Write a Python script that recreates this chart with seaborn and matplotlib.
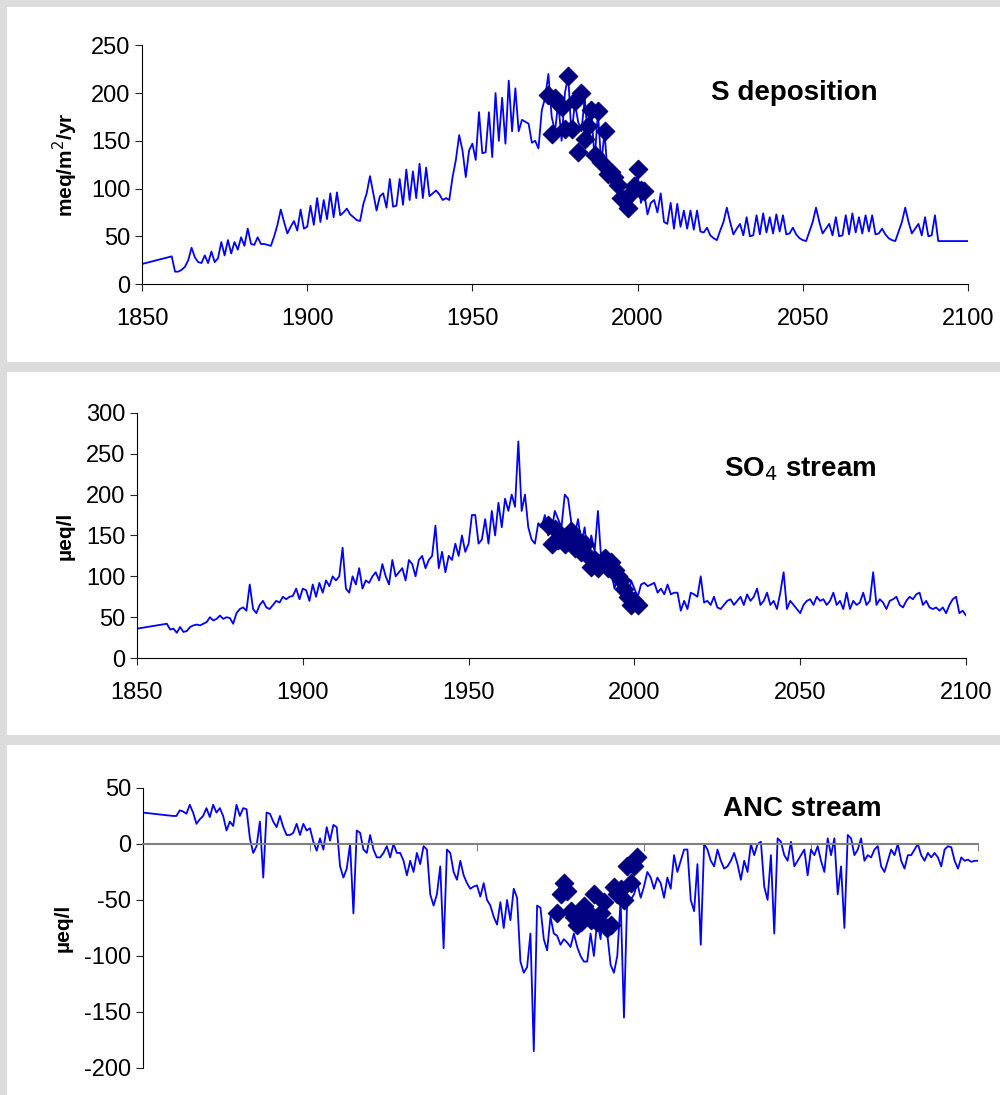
import numpy as np
import pandas as pd
import seaborn as sns
import matplotlib.pyplot as plt
from matplotlib.patches import Rectangle

# Annual values 1860-2100 (one row per decade); 1850 start point separately
s_start = [(1850, 21), (1859, 29)]
s_dep = [
    13, 13, 15, 18, 25, 38, 28, 23, 22, 30,      # 1860
    22, 34, 23, 27, 44, 30, 46, 32, 44, 36,      # 1870
    49, 40, 58, 42, 41, 49, 42, 42, 41, 40,      # 1880
    50, 62, 78, 65, 53, 60, 66, 56, 78, 58,      # 1890
    60, 82, 62, 90, 65, 88, 68, 95, 70, 96,      # 1900
    72, 75, 79, 73, 70, 67, 66, 84, 95, 113,     # 1910
    95, 77, 92, 95, 80, 110, 81, 82, 110, 83,    # 1920
    120, 88, 118, 90, 126, 90, 122, 92, 95, 98,  # 1930
    94, 88, 90, 88, 112, 130, 156, 140, 112, 140,  # 1940
    147, 130, 180, 137, 138, 180, 133, 200, 150, 195,  # 1950
    147, 213, 160, 205, 160, 172, 170, 168, 148, 150,  # 1960
    142, 182, 195, 220, 175, 160, 190, 150, 200, 218,  # 1970
    155, 190, 170, 160, 195, 150, 180, 130, 180, 125,  # 1980
    160, 110, 115, 110, 100, 90, 88, 78, 95, 105,  # 1990
    115, 85, 95, 73, 85, 88, 75, 95, 65, 63,     # 2000
    85, 58, 84, 60, 77, 58, 77, 57, 77, 55,      # 2010
    54, 59, 51, 48, 46, 56, 65, 80, 65, 52,      # 2020
    58, 63, 51, 70, 50, 51, 72, 52, 74, 54,      # 2030
    70, 53, 73, 55, 72, 52, 53, 59, 52, 48,      # 2040
    46, 45, 55, 65, 80, 65, 53, 58, 63, 51,      # 2050
    70, 50, 51, 72, 52, 74, 54, 70, 53, 72,      # 2060
    55, 72, 52, 53, 58, 52, 48, 46, 45, 55,      # 2070
    65, 80, 65, 53, 58, 63, 51, 70, 50, 51,      # 2080
    72, 45, 45, 45, 45, 45, 45, 45, 45, 45,      # 2090
    45,                                          # 2100
]
s_obs_years = list(range(1973, 2003))
s_obs = [198, 157, 195, 190, 185, 162, 218, 162, 192, 138, 200, 152, 165, 182, 135,
         181, 128, 160, 115, 117, 112, 104, 90, 88, 80, 95, 103, 120, 98, 97]

so4_start = [(1850, 36), (1859, 42)]
so4 = [
    35, 36, 31, 38, 32, 33, 38, 40, 41, 40,      # 1860
    42, 44, 50, 46, 48, 52, 48, 50, 49, 42,      # 1870
    55, 60, 62, 58, 90, 60, 55, 65, 70, 62,      # 1880
    60, 65, 70, 68, 75, 72, 75, 76, 85, 72,      # 1890
    85, 83, 70, 90, 75, 92, 80, 95, 88, 100,     # 1900
    95, 100, 135, 85, 80, 100, 90, 110, 85, 95,  # 1910
    92, 100, 105, 95, 115, 100, 90, 120, 100, 105,  # 1920
    110, 95, 120, 115, 100, 120, 125, 110, 120, 125,  # 1930
    162, 110, 130, 105, 125, 120, 140, 125, 150, 130,  # 1940
    140, 175, 175, 140, 145, 170, 140, 180, 150, 190,  # 1950
    160, 195, 180, 200, 185, 265, 180, 200, 160, 145,  # 1960
    140, 165, 160, 175, 150, 155, 180, 170, 160, 200,  # 1970
    195, 165, 150, 170, 140, 160, 120, 150, 130, 180,  # 1980
    120, 110, 100, 105, 85, 100, 75, 100, 70, 95,  # 1990
    85, 75, 90, 92, 88, 90, 92, 80, 85, 78,      # 2000
    90, 78, 80, 80, 58, 70, 60, 80, 78, 75,      # 2010
    100, 68, 70, 65, 75, 62, 60, 65, 70, 72,     # 2020
    65, 70, 75, 65, 78, 70, 75, 85, 65, 70,      # 2030
    80, 65, 70, 60, 80, 105, 60, 70, 65, 60,     # 2040
    55, 65, 70, 72, 65, 75, 70, 72, 65, 70,      # 2050
    80, 65, 70, 60, 80, 60, 70, 65, 68, 80,      # 2060
    65, 70, 105, 65, 72, 68, 60, 70, 72, 75,     # 2070
    65, 62, 70, 75, 72, 78, 80, 65, 70, 62,      # 2080
    60, 62, 58, 62, 55, 65, 72, 75, 55, 58,      # 2090
    52,                                          # 2100
]
so4_obs_years = list(range(1974, 2002))
so4_obs = [163, 140, 158, 145, 148, 140, 150, 155, 135, 145, 130, 140, 125, 112,
           120, 110, 115, 122, 110, 118, 108, 100, 95, 85, 75, 65, 70, 65]

anc_start = [(1850, 28), (1859, 25)]
anc = [
    25, 30, 29, 27, 35, 28, 18, 22, 25, 32,      # 1860
    24, 35, 28, 32, 25, 12, 20, 16, 35, 25,      # 1870
    32, 31, 5, -8, -2, 20, -30, 28, 27, 20,      # 1880
    15, 25, 15, 8, 8, 10, 18, 8, 18, 12,         # 1890
    14, 2, -6, 5, -5, 15, 3, 17, 15, -20,        # 1900
    -30, -22, 0, -62, 12, 10, -5, -8, 8, -5,     # 1910
    -12, -12, -8, -2, -12, 0, -8, -8, -15, -28,  # 1920
    -15, -25, -8, -18, -2, -5, -45, -55, -45, -20,  # 1930
    -93, -5, -8, -25, -32, -15, -28, -35, -40, -38,  # 1940
    -37, -47, -35, -50, -55, -65, -72, -52, -75, -50,  # 1950
    -68, -40, -48, -105, -115, -110, -80, -185, -55, -57,  # 1960
    -85, -95, -65, -80, -82, -90, -85, -88, -92, -80,  # 1970
    -92, -100, -105, -105, -80, -100, -68, -85, -50, -80,  # 1980
    -108, -115, -100, -50, -155, -45, -50, -45, -35, -48,  # 1990
    -38, -25, -30, -40, -30, -35, -48, -30, -40, -10,  # 2000
    -25, -15, -5, -5, -50, -60, -18, -90, 0, -5,  # 2010
    -15, -20, -5, -15, -22, -20, -15, -8, -18, -32,  # 2020
    -15, -25, 0, -10, 0, 2, -38, -50, -10, -80,  # 2030
    5, 2, -10, -15, 2, -20, -15, -10, -5, -28,   # 2040
    -5, -10, -2, -15, -25, 5, -10, 5, -45, -20,  # 2050
    -75, 8, 5, -10, -5, 5, -15, -10, -12, -5,    # 2060
    -2, -20, -25, -15, -5, -10, 0, -15, -22, -10,  # 2070
    -10, -5, 0, -10, -15, -8, -12, -8, -12, -20,  # 2080
    -5, -2, -3, -15, -22, -12, -15, -14, -16, -15,  # 2090
    -15,                                         # 2100
]
anc_obs_years = list(range(1974, 1999))
anc_obs = [-62, -45, -35, -42, -60, -65, -72, -70, -55, -60, -68, -45, -70, -62,
           -52, -75, -72, -38, -45, -40, -50, -20, -35, -20, -12]


def frame(start, vals):
    yrs = [y for y, _ in start] + list(range(1860, 1860 + len(vals)))
    v = [val for _, val in start] + vals
    return pd.DataFrame({"year": yrs, "value": v})


sns.set_style("white")
plt.rcParams["font.family"] = ["Liberation Sans", "DejaVu Sans"]
plt.rcParams["axes.unicode_minus"] = False

fig = plt.figure(figsize=(10, 10.95), dpi=100)
fig.patch.set_facecolor("#dcdcdc")
W, H = 1000, 1095
for top, bot in [(7, 362), (372, 735), (745, 1095)]:
    fig.patches.append(Rectangle((7 / W, 1 - bot / H), 1, (bot - top) / H,
                                 transform=fig.transFigure, facecolor="white",
                                 edgecolor="none", zorder=-10))

panels = [
    dict(rect=[0.142, 0.7406, 0.826, 0.218], df=frame(s_start, s_dep),
         oy=s_obs_years, ov=s_obs, ylim=(0, 250), yt=range(0, 251, 50),
         ylabel="meq/m$^2$/yr", title="S deposition", tx=0.79, ty=0.77),
    dict(rect=[0.137, 0.399, 0.829, 0.224], df=frame(so4_start, so4),
         oy=so4_obs_years, ov=so4_obs, ylim=(0, 300), yt=range(0, 301, 50),
         ylabel="µeq/l", title="SO$_4$ stream", tx=0.80, ty=0.74),
    dict(rect=[0.143, 0.0247, 0.835, 0.2557], df=frame(anc_start, anc),
         oy=anc_obs_years, ov=anc_obs, ylim=(-200, 50), yt=range(-200, 51, 50),
         ylabel="µeq/l", title="ANC stream", tx=0.79, ty=0.9),
]

for i, p in enumerate(panels):
    ax = fig.add_axes(p["rect"])
    ax.set_facecolor("none")
    sns.lineplot(data=p["df"], x="year", y="value", ax=ax, color="#0000ff", lw=1.3)
    obs = pd.DataFrame({"year": p["oy"], "value": p["ov"]})
    sns.scatterplot(data=obs, x="year", y="value", ax=ax, marker="D", s=90,
                    color="#000080", edgecolor="#000080", zorder=3)
    ax.set_xlim(1850, 2100)
    ax.set_ylim(*p["ylim"])
    ax.set_yticks(list(p["yt"]))
    ax.set_xticks(range(1850, 2101, 50))
    ax.set_xlabel("")
    ax.set_ylabel(p["ylabel"], fontsize=15, fontweight="bold", labelpad=8,
                  color="black")
    ax.text(p["tx"], p["ty"], p["title"], transform=ax.transAxes, ha="center",
            fontsize=20, fontweight="bold", color="black")
    for side in ["top", "right"]:
        ax.spines[side].set_visible(False)
    for side in ["left", "bottom"]:
        ax.spines[side].set_color("black")
        ax.spines[side].set_linewidth(0.8)
    ax.tick_params(axis="both", direction="out", length=5, width=0.8,
                   labelsize=17, left=True, bottom=True, labelcolor="black")
    ax.tick_params(axis="x", pad=12)
    if i == 2:
        ax.spines["bottom"].set_position(("data", 0))
        ax.spines["bottom"].set_color("#808080")
        ax.spines["bottom"].set_linewidth(1.5)
        ax.tick_params(axis="x", labelbottom=False, color="#808080")

fig.savefig("out.png", dpi=100, facecolor=fig.get_facecolor())
